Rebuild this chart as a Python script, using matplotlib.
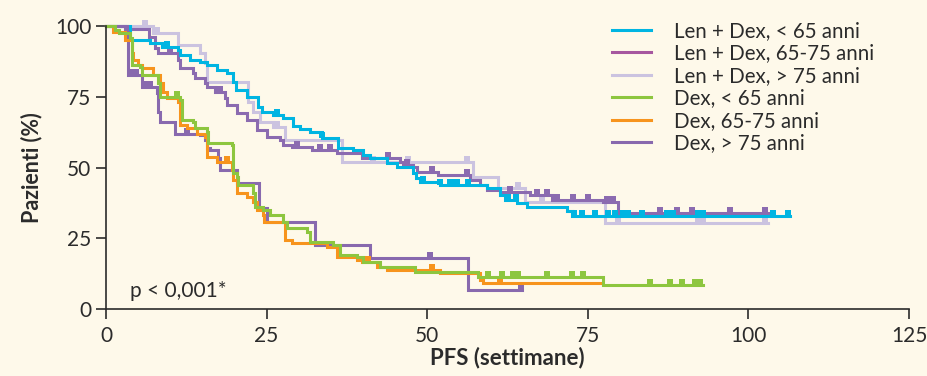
import numpy as np
import matplotlib.pyplot as plt
from matplotlib.path import Path
from matplotlib.lines import Line2D

plt.rcParams['font.family'] = ['Lato', 'DejaVu Sans']

# Kaplan-Meier step curves: event times (weeks) and survival (%) after each step
t_len_lt65 = [0, 3.7, 6.8, 8.7, 11.2, 11.5, 13.1, 14.6, 15.7, 17.3, 18.8, 19.8, 20.3, 21.9,
              23.7, 24.3, 26.0, 27.6, 29.1, 30.2, 31.8, 33.6, 36.1, 38.4, 40.0, 41.1, 43.7,
              45.3, 47.8, 48.2, 48.9, 52.0, 59.3, 61.3, 62.1, 64.0, 65.5, 71.8, 72.5, 106.5]
s_len_lt65 = [100, 95.1, 94.0, 92.6, 91.5, 89.8, 88.0, 87.3, 86.2, 84.5, 83.4, 80.2, 77.4, 74.9,
              71.4, 69.6, 68.6, 67.5, 64.7, 63.6, 62.5, 60.4, 56.9, 56.2, 54.4, 53.4, 51.6,
              50.2, 48.1, 46.3, 44.9, 43.8, 42.8, 40.3, 38.5, 37.5, 36.0, 34.6, 32.7, 32.7]
c_len_lt65 = [9.5, 26.6, 33.6, 49.3, 52.0, 53.5, 54.3, 54.6, 56.4, 62.6, 63.8, 72.9, 74.1, 76.1,
              78.1, 79.2, 80.5, 81.3, 83.4, 87.3, 88.2, 92.2, 93.0, 103.8, 106.2]

t_len_6575 = [0, 3.0, 6.7, 7.6, 8.1, 11.2, 11.5, 13.5, 13.9, 15.4, 15.7, 17.0, 18.5, 18.8,
              20.4, 21.9, 23.5, 25.1, 27.1, 27.6, 29.0, 32.1, 36.0, 39.9, 45.8, 46.2, 47.8,
              48.4, 51.7, 56.7, 58.2, 59.3, 61.3, 66.0, 69.4, 77.4, 79.7, 103.0]
s_len_6575 = [100, 98.9, 96.1, 92.2, 90.5, 88.0, 85.2, 83.4, 81.6, 79.9, 78.4, 76.7, 74.6, 72.1,
              69.3, 66.8, 63.3, 60.8, 59.7, 58.0, 57.2, 56.2, 55.1, 53.4, 51.9, 50.9, 50.2,
              48.4, 47.3, 45.6, 43.8, 42.0, 41.3, 40.3, 38.5, 37.8, 33.9, 33.9]
c_len_6575 = [10.0, 17.7, 29.7, 33.3, 34.9, 43.9, 46.9, 50.7, 56.2, 62.9, 67.1, 68.6, 70.2,
              72.7, 75.0, 78.0, 78.9, 86.2, 88.9, 91.2, 97.1, 102.6]

t_len_gt75 = [0, 7.3, 11.2, 14.6, 15.4, 15.7, 22.1, 22.9, 24.0, 26.0, 27.9, 36.7, 57.1, 61.0,
              65.2, 77.7, 103.0]
s_len_gt75 = [100, 97.5, 93.3, 90.5, 86.9, 80.2, 73.1, 69.6, 66.1, 64.3, 59.7, 51.9, 46.6, 42.8,
              37.8, 30.4, 30.4]
c_len_gt75 = [6.1, 7.9, 26.6, 41.6, 47.0, 56.2, 64.1, 67.9, 79.7, 92.2, 92.9, 102.6]

t_dex_lt65 = [0, 1.4, 2.0, 3.7, 4.0, 5.3, 5.6, 8.1, 8.4, 11.5, 11.8, 13.5, 13.9, 15.7, 15.9,
              19.6, 19.8, 20.4, 20.5, 22.9, 23.2, 24.4, 25.5, 27.6, 28.2, 31.3, 31.8, 35.3,
              36.4, 39.1, 40.0, 42.7, 48.1, 57.9, 77.4, 92.9]
s_dex_lt65 = [100, 98.6, 97.5, 95.8, 86.2, 85.5, 82.7, 79.9, 74.9, 73.9, 66.8, 66.1, 64.0, 62.5,
              58.7, 58.0, 48.1, 46.6, 43.8, 41.0, 36.0, 35.0, 33.2, 30.7, 28.6, 27.2, 23.7, 22.6,
              19.1, 18.4, 16.6, 14.8, 13.1, 11.3, 8.5, 8.5]
c_dex_lt65 = [11.1, 59.5, 61.6, 63.4, 64.1, 68.6, 72.5, 74.3, 84.7, 87.8, 89.7, 91.7, 92.5]

t_dex_6575 = [0, 1.1, 3.0, 4.0, 4.2, 5.0, 5.6, 7.3, 8.4, 8.9, 9.5, 11.2, 11.5, 12.6, 14.2,
              15.4, 15.7, 17.3, 19.6, 19.8, 20.4, 21.9, 22.9, 23.5, 24.4, 24.6, 27.9, 29.0,
              34.4, 36.0, 39.1, 39.9, 42.2, 43.7, 52.0, 58.2, 58.7, 77.2]
s_dex_6575 = [100, 97.9, 95.1, 90.5, 88.0, 86.2, 85.2, 82.7, 79.9, 76.7, 74.6, 73.1, 65.0, 64.0,
              61.8, 60.8, 53.7, 51.9, 49.1, 45.6, 41.0, 39.6, 37.8, 35.0, 33.2, 30.7, 24.4,
              23.3, 21.9, 18.4, 17.3, 16.6, 14.8, 13.8, 12.7, 10.2, 9.2, 9.2]
c_dex_6575 = [18.8, 40.8, 50.7, 61.3]

t_dex_gt75 = [0, 3.3, 3.4, 5.6, 7.9, 8.1, 8.4, 10.7, 14.6, 15.4, 15.7, 16.2, 17.4, 17.7, 20.4,
              23.8, 25.1, 32.5, 41.1, 56.4, 64.8]
s_dex_gt75 = [100, 97.9, 82.7, 78.4, 76.3, 69.6, 66.1, 61.8, 61.5, 59.7, 56.9, 56.2, 53.4, 49.1,
              44.5, 35.7, 30.7, 22.6, 18.0, 6.7, 6.7]
c_dex_gt75 = [4.2, 4.7, 6.4, 6.8, 12.6, 50.4, 64.6]

labels = ['Len + Dex, < 65 anni', 'Len + Dex, 65-75 anni', 'Len + Dex, > 75 anni',
          'Dex, < 65 anni', 'Dex, 65-75 anni', 'Dex, > 75 anni']
legend_colors = ['#00b5e2', '#a6579f', '#cbc3e0', '#8dc63f', '#f7941d', '#8869ae']
line_colors = ['#00b5e2', '#8b6bb0', '#cbc3e0', '#8dc63f', '#f7941d', '#8869ae']

curves = [
    (t_len_gt75, s_len_gt75, c_len_gt75),
    (t_len_6575, s_len_6575, c_len_6575),
    (t_len_lt65, s_len_lt65, c_len_lt65),
    (t_dex_gt75, s_dex_gt75, c_dex_gt75),
    (t_dex_6575, s_dex_6575, c_dex_6575),
    (t_dex_lt65, s_dex_lt65, c_dex_lt65),
]
curve_colors = [line_colors[2], line_colors[1], line_colors[0],
                line_colors[5], line_colors[4], line_colors[3]]

bg = '#fef9ea'
ink = '#2b2b2b'

# censor tick: small square sitting on top of the line
tick_marker = Path([(-1, 0), (1, 0), (1, 2), (-1, 2), (-1, 0)])

fig = plt.figure(figsize=(9.28, 3.76), dpi=100, facecolor=bg)
ax = fig.add_axes([106 / 928, 1 - 309 / 376, 803 / 928, 283 / 376])
ax.set_facecolor(bg)

for (t, s, cens), col in zip(curves, curve_colors):
    t = np.array(t)
    s = np.array(s)
    ax.plot(t, s, drawstyle='steps-post', color=col, lw=2.2, clip_on=False,
            solid_joinstyle='miter')
    cens = np.array(cens)
    idx = np.searchsorted(t, cens, side='right') - 1
    ax.plot(cens, s[idx], ls='none', marker=tick_marker, ms=9, color=col,
            mew=0, clip_on=False)

ax.set_xlim(0, 125)
ax.set_ylim(0, 100)
ax.set_xticks([0, 25, 50, 75, 100, 125])
ax.set_yticks([0, 25, 50, 75, 100])
for sp in ['top', 'right']:
    ax.spines[sp].set_visible(False)
for sp in ['left', 'bottom']:
    ax.spines[sp].set_color(ink)
    ax.spines[sp].set_linewidth(1.2)
ax.tick_params(axis='both', direction='out', length=7.5, width=1.2, color=ink,
               labelsize=15, labelcolor=ink)
ax.tick_params(axis='x', pad=5)
ax.tick_params(axis='y', pad=3)

ax.set_xlabel('PFS (settimane)', fontsize=16, fontweight='bold', color=ink, labelpad=0)
ax.set_ylabel('Pazienti (%)', fontsize=15.5, fontweight='bold', color=ink, labelpad=9)

ax.text(3.7, 4.2, 'p < 0,001*', fontsize=15, color=ink, va='baseline', ha='left')

handles = [Line2D([0], [0], color=c, lw=2.2) for c in legend_colors]
leg = fig.legend(handles, labels, loc='upper left', bbox_to_anchor=(612 / 928, 0.944),
                 frameon=False, fontsize=14.8, handlelength=1.9, handletextpad=1.1,
                 labelspacing=0.12, borderpad=0, borderaxespad=0)
for txt in leg.get_texts():
    txt.set_color(ink)

fig.savefig('out.png', dpi=100, facecolor=bg)
